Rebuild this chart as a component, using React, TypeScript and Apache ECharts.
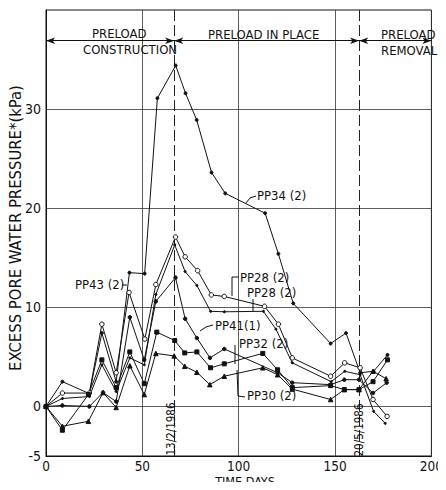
import React, { useEffect, useRef } from "react";
import * as echarts from "echarts";

const FONT = '"Liberation Sans Narrow", "DejaVu Sans Condensed", Roboto, sans-serif';

const yTickLabels = [-5, 0, 10, 20, 30];
const yGridValues = [0, 10, 20, 30];
const milestoneDays = [66.5, 162.5];
const milestoneLabels = ["13/2/1986", "20/5/1986"];
const phaseBounds = [0, 66.5, 162.5, 200];
const phaseLineLevel = 36.9;
const xTitle = "TIME DAYS";
const yTitle = "EXCESS PORE WATER PRESSURE*(kPa)";

const pp34Days = [0, 8.5, 22.5, 29, 36.4, 43.3, 51.2, 57.8, 67.3, 72.4, 78.2, 85.9, 93, 113.7, 120.6, 128.3, 147.7, 155.7, 163, 170, 177.2];
const pp34Vals = [0, 2.5, 1.3, 7.4, 2.5, 13.5, 13.4, 31.1, 34.4, 31.6, 28.9, 23.6, 21.5, 19.5, 15.4, 10.4, 6.35, 7.4, 3.4, 3.55, 5.2];

const pp28aDays = [0, 8.5, 22.5, 29, 36.4, 43.1, 51.3, 57, 67.2, 72.2, 78.7, 85.8, 92.5, 113.4, 120.6, 127.8, 147.7, 155, 163, 169.7, 177];
const pp28aVals = [0, 1.35, 1.35, 8.3, 3.4, 11.5, 6.8, 12.3, 17.1, 15.1, 13.7, 11.25, 11.1, 10.1, 8.3, 4.9, 3.05, 4.4, 3.9, 0.7, -1.0];

const pp28bDays = [0, 8.5, 22.5, 29, 36.4, 43.5, 51, 57, 66.8, 72.2, 78.3, 85.4, 92.5, 112.8, 119.3, 127.8, 148, 155, 163, 170, 176];
const pp28bVals = [0, 0.8, 1.0, 4.2, 1.5, 4.9, 4.2, 11.3, 16.3, 13.6, 12.2, 9.6, 9.55, 9.6, 7.8, 4.4, 2.5, 3.55, 3.2, -0.5, -1.7];

const pp41Days = [0, 8.5, 22.5, 29.6, 36.4, 43.5, 51, 57, 67.2, 72.2, 78.3, 85.1, 92.5, 120.2, 127.8, 147.7, 154.8, 162.4, 169.7, 176.8];
const pp41Vals = [0, 0.1, 0.0, 1.4, 0.5, 9.0, 4.7, 10.6, 13.0, 8.85, 6.9, 4.9, 5.8, 3.4, 2.4, 2.2, 2.7, 2.7, 1.35, 2.4];

const pp32Days = [0, 8.5, 22, 29, 36.4, 43.5, 51, 57.5, 66.8, 72, 78.3, 85.4, 92.5, 112.5, 120.2, 127.8, 147.7, 154.8, 162.4, 169.7, 177.2];
const pp32Vals = [0, -2.4, 1.2, 4.7, 1.9, 5.5, 2.3, 7.5, 6.65, 5.4, 5.5, 3.9, 4.3, 5.35, 3.7, 1.9, 2.1, 1.7, 1.7, 2.5, 4.7];

const pp30Days = [0, 8.5, 22, 29.6, 36.4, 43.5, 51, 57, 66.5, 72, 78.3, 85, 92.5, 112.5, 120.2, 127.8, 147.7, 154.8, 162.4, 169.7, 176.5];
const pp30Vals = [0, -2.0, -1.5, 1.4, -0.1, 4.1, 1.2, 5.35, 5.1, 4.05, 3.45, 2.2, 3.05, 3.9, 3.2, 1.75, 0.7, 1.7, 1.7, 3.55, 2.8];

const zip = (a: number[], b: number[]) => a.map((d, i) => [d, b[i]]);

export default function App() {
  const ref = useRef<HTMLDivElement>(null);
  useEffect(() => {
    const chart = echarts.init(ref.current!, undefined, { renderer: "svg" });
    const lineSeries = (name: string, days: number[], vals: number[], symbol: string, size: number, filled: boolean) => ({
      name,
      type: "line",
      data: zip(days, vals),
      symbol,
      symbolSize: size,
      showAllSymbol: true,
      lineStyle: { color: "#111", width: 1 },
      itemStyle: { color: filled ? "#111" : "#fff", borderColor: "#111", borderWidth: 1 },
      z: 5,
    });
    const txt = (text: string, x: number, y: number, extra: any = {}) => ({
      type: "text",
      x,
      y,
      z: 20,
      ...extra,
      style: { text, fill: "#111", font: `13px ${FONT}`, textAlign: "left", textVerticalAlign: "middle", ...(extra.style || {}) },
    });
    const pl = (points: number[][]) => ({
      type: "polyline",
      z: 20,
      shape: { points },
      style: { stroke: "#111", lineWidth: 1, fill: "none" },
    });
    chart.setOption({
      animation: false,
      backgroundColor: "#fff",
      grid: { left: 46, right: 6, top: 10, bottom: 34, show: true, borderColor: "#111", borderWidth: 1 },
      xAxis: {
        type: "value",
        min: 0,
        max: 200,
        interval: 50,
        axisLine: { onZero: false, lineStyle: { color: "#111" } },
        axisTick: { show: false },
        axisLabel: { fontFamily: FONT, fontSize: 13.5, color: "#111", margin: 3 },
        splitLine: { show: true, lineStyle: { color: "#333", width: 0.8 } },
      },
      yAxis: {
        type: "value",
        min: -5,
        max: 40,
        interval: 5,
        axisLine: { lineStyle: { color: "#111" } },
        axisTick: { show: false },
        axisLabel: {
          fontFamily: FONT,
          fontSize: 14,
          color: "#111",
          margin: 5,
          formatter: (v: number) => (yTickLabels.includes(v) ? String(v) : ""),
        },
        splitLine: { show: false },
      },
      series: [
        {
          type: "line",
          data: [],
          silent: true,
          markLine: {
            silent: true,
            symbol: "none",
            label: { show: false },
            animation: false,
            data: [
              ...yGridValues.map((v) => ({ yAxis: v, lineStyle: { color: "#333", width: 0.8, type: "solid" } })),
              ...milestoneDays.map((d) => ({ xAxis: d, lineStyle: { color: "#222", width: 1, type: [11, 4] } })),
            ],
          },
        },
        {
          type: "line",
          data: [],
          silent: true,
          markLine: {
            silent: true,
            symbol: ["arrow", "arrow"],
            symbolSize: [5, 9],
            label: { show: false },
            animation: false,
            lineStyle: { color: "#111", width: 1, type: "solid" },
            data: phaseBounds.slice(0, -1).map((b, i) => [
              { coord: [b, phaseLineLevel] },
              { coord: [phaseBounds[i + 1], phaseLineLevel] },
            ]),
          },
        },
        lineSeries("PP34 (2)", pp34Days, pp34Vals, "circle", 3, true),
        lineSeries("PP28 (2) a", pp28aDays, pp28aVals, "circle", 4.5, false),
        lineSeries("PP28 (2) b", pp28bDays, pp28bVals, "circle", 2, true),
        lineSeries("PP41 (1)", pp41Days, pp41Vals, "circle", 3.5, true),
        lineSeries("PP32 (2)", pp32Days, pp32Vals, "rect", 4, true),
        lineSeries("PP30 (2)", pp30Days, pp30Vals, "triangle", 4.5, true),
      ],
      graphic: [
        txt(xTitle, 245, 481.5, { style: { font: `12.5px ${FONT}`, textAlign: "center" } }),
        txt(yTitle, 15, 228, { rotation: Math.PI / 2, style: { font: `16.5px ${FONT}`, textAlign: "center" } }),
        txt("PRELOAD", 92, 33),
        txt("CONSTRUCTION", 83, 49),
        txt("PRELOAD IN PLACE", 208, 34),
        txt("PRELOAD", 381, 34),
        txt("REMOVAL", 381, 50),
        txt(milestoneLabels[0], 171, 429, { rotation: Math.PI / 2, style: { font: `11.5px ${FONT}`, textAlign: "center" } }),
        txt(milestoneLabels[1], 359, 430, { rotation: Math.PI / 2, style: { font: `11.5px ${FONT}`, textAlign: "center" } }),
        txt("PP34 (2)", 257, 195),
        pl([[246, 203], [250, 198], [256, 196]]),
        txt("PP43 (2)", 75, 284),
        pl([[122, 285], [127, 285]]),
        txt("PP28 (2)", 240, 277),
        pl([[239, 277], [232, 277], [232, 296]]),
        txt("PP28 (2)", 247, 292),
        pl([[253, 299], [253, 311]]),
        txt("PP41(1)", 215, 325),
        pl([[213, 325], [206, 327], [200, 331]]),
        txt("PP32 (2)", 239, 343),
        pl([[235, 345], [235, 364]]),
        txt("PP30 (2)", 247, 395),
        pl([[245, 397], [238, 396], [237, 370]]),
      ],
    });
    return () => chart.dispose();
  }, []);
  return <div ref={ref} style={{ width: 446, height: 490, margin: -8 }} />;
}
